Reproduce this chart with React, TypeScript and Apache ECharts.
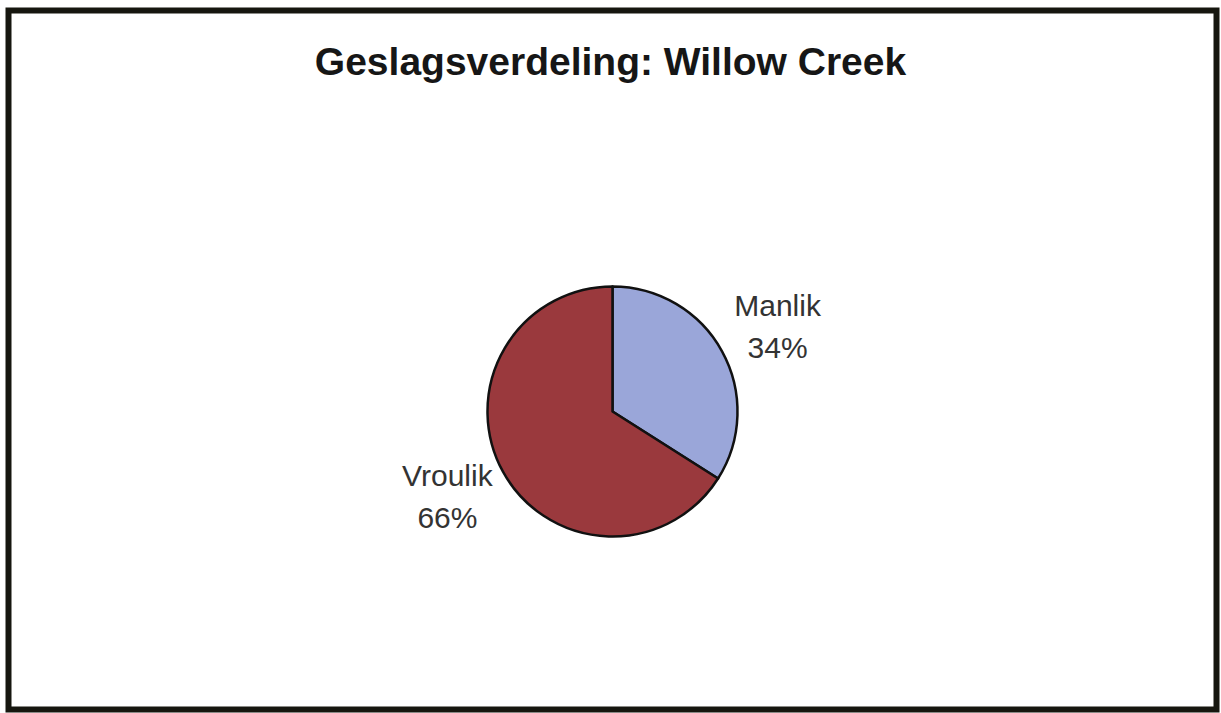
import React, { useEffect, useRef } from "react";
import * as echarts from "echarts";

const titleText = "Geslagsverdeling: Willow Creek";
const categories = ["Manlik", "Vroulik"];
const values = [34, 66];
const colors = ["#9aa6d9", "#9a393d"];

export default function App() {
  const ref = useRef<HTMLDivElement>(null);

  useEffect(() => {
    if (!ref.current) return;
    const chart = echarts.init(ref.current, null, { renderer: "svg" });
    chart.setOption({
      animation: false,
      backgroundColor: "#ffffff",
      title: {
        text: titleText,
        left: "center",
        top: 42,
        padding: 0,
        textStyle: {
          fontFamily: "Liberation Sans",
          fontSize: 39,
          fontWeight: "bold",
          color: "#161616",
        },
      },
      graphic: [
        {
          type: "rect",
          shape: { x: 8.5, y: 10.5, width: 1208, height: 699 },
          style: { fill: "none", stroke: "#16160f", lineWidth: 6 },
          silent: true,
        },
      ],
      series: [
        {
          type: "pie",
          center: [612.5, 411.5],
          radius: 125,
          startAngle: 90,
          clockwise: true,
          data: categories.map((c, i) => ({
            name: c,
            value: values[i],
            itemStyle: { color: colors[i] },
          })),
          itemStyle: { borderColor: "#111111", borderWidth: 2.5 },
          label: {
            show: true,
            position: "outside",
            formatter: "{b}\n{d}%",
            fontFamily: "Liberation Sans",
            fontSize: 30,
            lineHeight: 42,
            color: "#333333",
            distanceToLabelLine: 5,
          },
          labelLine: { show: false, length: 52, length2: 5 },
          labelLayout: () => ({ align: "center" }),
          emphasis: { disabled: true },
        },
      ],
    });
    return () => chart.dispose();
  }, []);

  return (
    <div
      ref={ref}
      style={{ position: "fixed", left: 0, top: 0, width: 1221, height: 713, background: "#fff" }}
    />
  );
}
